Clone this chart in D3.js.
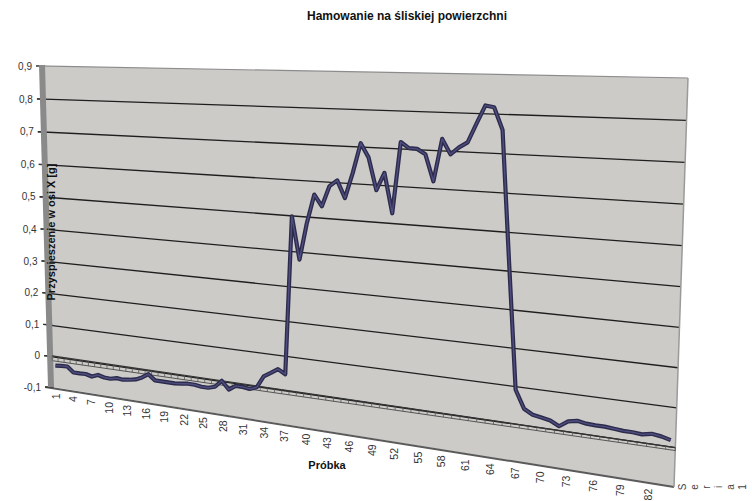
<!DOCTYPE html>
<html><head><meta charset="utf-8">
<script src="https://cdn.jsdelivr.net/npm/d3@7"></script>
<style>body{margin:0;background:#fff}svg{display:block}text{font-family:Arial,"Liberation Sans",sans-serif}</style>
</head><body><svg id="c" width="752" height="501"></svg>
<script>
const categories = [1,2,3,4,5,6,7,8,9,10,11,12,13,14,15,16,17,18,19,20,21,22,23,24,25,26,27,28,29,30,31,32,33,34,35,36,37,38,39,40,41,42,43,44,45,46,47,48,49,50,51,52,53,54,55,56,57,58,59,60,61,62,63,64,65,66,67,68,69,70,71,72,73,74,75,76,77,78,79,80,81,82];
const values = [-0.030,-0.028,-0.027,-0.043,-0.043,-0.042,-0.047,-0.039,-0.044,-0.045,
 -0.040,-0.042,-0.039,-0.035,-0.026,-0.013,-0.029,-0.029,-0.029,-0.029,
 -0.027,-0.024,-0.024,-0.027,-0.027,-0.021,0.000,-0.023,-0.009,-0.009,
 -0.012,-0.004,0.031,0.044,0.058,0.046,0.498,0.378,0.482,0.563,
 0.532,0.589,0.606,0.559,0.629,0.710,0.673,0.586,0.634,0.527,
 0.718,0.703,0.702,0.689,0.619,0.731,0.692,0.711,0.725,0.774,
 0.821,0.817,0.760,0.420,0.091,0.044,0.031,0.027,0.023,0.011,
 0.027,0.032,0.028,0.027,0.027,0.025,0.023,0.023,0.021,0.026,
 0.023,0.017];
const yTicks = [0.9,0.8,0.7,0.6,0.5,0.4,0.3,0.2,0.1,0,-0.1];
const yTickLabels = ["0,9","0,8","0,7","0,6","0,5","0,4","0,3","0,2","0,1","0","-0,1"];
const xTickLabels = [1,4,7,10,13,16,19,22,25,28,31,34,37,40,43,46,49,52,55,58,61,64,67,70,73,76,79,82];
const chartTitle = "Hamowanie na śliskiej powierzchni";
const xTitle = "Próbka";
const yTitle = "Przyspieszenie w osi X [g]";
const seriesName = "Seria1";

const svg = d3.select("#c");

const uScale = d3.scaleBand().domain(categories).range([0,1]);
const uc = c => uScale(c) + uScale.bandwidth()/2;
const tScale = d3.scaleLinear().domain([0.9,-0.1]).range([0,1]);

const TL=[44,66], TR=[688,78], BR=[674,487], BL=[53,387];
function makeH(p0,p1,p2,p3){
  const [x0,y0]=p0,[x1,y1]=p1,[x2,y2]=p2,[x3,y3]=p3;
  const dx1=x1-x2, dx2=x3-x2, dx3=x0-x1+x2-x3, dy1=y1-y2, dy2=y3-y2, dy3=y0-y1+y2-y3;
  const det=dx1*dy2-dx2*dy1;
  const g=(dx3*dy2-dx2*dy3)/det, h=(dx1*dy3-dx3*dy1)/det;
  const a=x1-x0+g*x1, b=x3-x0+h*x3, c=x0, d=y1-y0+g*y1, e=y3-y0+h*y3, f=y0;
  return (u,v)=>{const w=g*u+h*v+1; return [(a*u+b*v+c)/w,(d*u+e*v+f)/w];};
}
const P = makeH(TL,TR,BR,BL);
const pv = (u,val) => P(u, tScale(val));

const wall = [P(0,0),P(1,0),P(1,1),P(0,1)];
svg.append("polygon").attr("points", wall.map(p=>p.join(",")).join(" "))
  .attr("fill","#cdcbc8");

yTicks.forEach((v,i)=>{
  const a = pv(0,v), b = pv(1,v);
  let stroke="#1e1e1e", w=1.3;
  if (i===0){stroke="#8c8c8c"; w=1.2;}
  if (i===yTicks.length-1){stroke="#5a5a5a"; w=2;}
  svg.append("line").attr("x1",a[0]-8).attr("y1",a[1]-0.1).attr("x2",b[0]).attr("y2",b[1])
    .attr("stroke",stroke).attr("stroke-width",w);
});
yTicks.forEach(v=>{
  const a = pv(0,v);
  svg.append("line").attr("x1",a[0]-8).attr("y1",a[1]).attr("x2",a[0]+1).attr("y2",a[1])
    .attr("stroke","#333").attr("stroke-width",1.2);
});

const lb = [P(0,0),P(0,1)];
svg.append("polygon").attr("points",[[lb[0][0]-5,lb[0][1]-1],[lb[0][0]+1,lb[0][1]-1],[lb[1][0]+1,lb[1][1]],[lb[1][0]-5,lb[1][1]]].map(p=>p.join(",")).join(" "))
  .attr("fill","#8a8a8a");
svg.append("line").attr("x1",P(1,0)[0]).attr("y1",P(1,0)[1]).attr("x2",P(1,1)[0]).attr("y2",P(1,1)[1])
  .attr("stroke","#9a9a9a").attr("stroke-width",1.5);

const z0 = pv(0,0), z1 = pv(1,0);
svg.append("line").attr("x1",z0[0]).attr("y1",z0[1]).attr("x2",z1[0]).attr("y2",z1[1])
  .attr("stroke","#333").attr("stroke-width",1.2);
const off = 5;
svg.append("line").attr("x1",z0[0]+1).attr("y1",z0[1]+off).attr("x2",z1[0]).attr("y2",z1[1]+off*0.6)
  .attr("stroke","#555").attr("stroke-width",1);
d3.range(categories.length+1).forEach(k=>{
  const u = k/categories.length;
  const p = pv(u,0);
  svg.append("line").attr("x1",p[0]).attr("y1",p[1]).attr("x2",p[0]).attr("y2",p[1]+off*(1-0.4*u))
    .attr("stroke","#555").attr("stroke-width",0.8);
});

const pts = categories.map((c,i)=>pv(uc(c),values[i]));
const line = d3.line().x(d=>d[0]).y(d=>d[1]);
svg.append("path").attr("d",line(pts)).attr("fill","none").attr("stroke","#2c2b4b")
  .attr("stroke-width",4.2).attr("stroke-linejoin","round");
svg.append("path").attr("d",line(pts)).attr("fill","none").attr("stroke","#4f4e80")
  .attr("stroke-width",1.4).attr("stroke-linejoin","round");

yTicks.forEach((v,i)=>{
  const a = pv(0,v);
  svg.append("text").attr("x",a[0]-12).attr("y",a[1]+3.5).attr("text-anchor","end")
    .attr("font-size",10).attr("fill","#333").text(yTickLabels[i]);
});

xTickLabels.forEach(c=>{
  const p = P(uc(c),1);
  const x = BL[0] + 0.965*(p[0]-BL[0]);
  const yEdge = BL[1] + (x-BL[0])*(BR[1]-BL[1])/(BR[0]-BL[0]);
  svg.append("text").attr("transform",`translate(${x+4},${yEdge+6}) rotate(-90)`)
    .attr("text-anchor","end").attr("font-size",10.5).attr("fill","#333").text(c);
});

svg.append("text").attr("x",407).attr("y",20).attr("text-anchor","middle")
  .attr("font-size",12).attr("font-weight","bold").attr("fill","#111").text(chartTitle);
svg.append("text").attr("x",327).attr("y",469).attr("text-anchor","middle")
  .attr("font-size",11).attr("font-weight","bold").attr("fill","#111").text(xTitle);
svg.append("text").attr("transform","translate(55,232) rotate(-90)").attr("text-anchor","middle")
  .attr("font-size",11).attr("font-weight","bold").attr("fill","#111").text(yTitle);

seriesName.split("").forEach((ch,i)=>{
  svg.append("text").attr("transform",`translate(${682+i*12},487) rotate(-90)`)
    .attr("text-anchor","middle").attr("dy","0.35em").attr("font-size",10).attr("fill","#444").text(ch);
});
</script></body></html>
